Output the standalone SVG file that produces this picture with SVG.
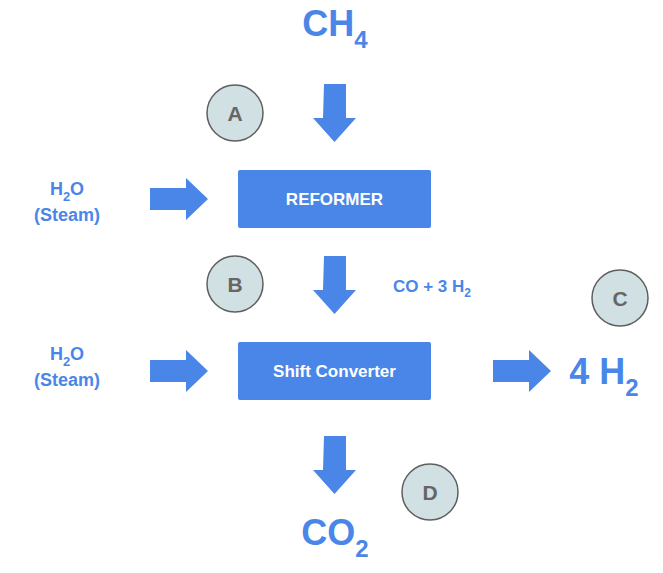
<svg xmlns="http://www.w3.org/2000/svg" width="663" height="573" viewBox="0 0 663 573">
<style>
.a{fill:#4a86e8}
.c{fill:#d0e0e3;stroke:#5f5f5f;stroke-width:1.5}
.cl{font-family:"Liberation Sans",Arial,sans-serif;font-weight:bold;font-size:21px;fill:#666;text-anchor:middle}
.t{font-family:"Liberation Sans",Arial,sans-serif;font-weight:bold;fill:#4a86e8;text-anchor:middle}
.w{font-family:"Liberation Sans",Arial,sans-serif;font-weight:bold;fill:#fff;text-anchor:middle;font-size:17px}
</style>
<rect width="663" height="573" fill="#fff"/>
<g id="connectors">
<path class="a" d="M324,84h22v34h10l-21.5,24l-21.5-24h10z"/>
<path class="a" d="M324,256h22v34h10l-21.5,24l-21.5-24h10z"/>
<path class="a" d="M324,436h22v34h10l-21.5,24l-21.5-24h10z"/>
<path class="a" d="M150,188h36v-10l22,21l-22,21v-10h-36z"/>
<path class="a" d="M150,360h36v-10l22,21l-22,21v-10h-36z"/>
<path class="a" d="M493,360h36v-10l22,21l-22,21v-10h-36z"/>
</g>
<g id="reformer"><rect x="238" y="170" width="193" height="58" rx="2" class="a"/><text class="w" x="334.5" y="205">REFORMER</text></g>
<g id="shift"><rect x="238" y="342" width="193" height="58" rx="2" class="a"/><text class="w" x="334.5" y="377">Shift Converter</text></g>
<g id="A"><circle class="c" cx="235" cy="113" r="28"/><text class="cl" x="235" y="121">A</text></g>
<g id="B"><circle class="c" cx="235" cy="284" r="28"/><text class="cl" x="235" y="292">B</text></g>
<g id="C"><circle class="c" cx="620" cy="298" r="28"/><text class="cl" x="620" y="306">C</text></g>
<g id="D"><circle class="c" cx="430" cy="492" r="28"/><text class="cl" x="430" y="500">D</text></g>
<g id="ch4"><text class="t" x="335" y="36" font-size="36">CH<tspan font-size="24" dy="12">4</tspan></text></g>
<g id="co2"><text class="t" x="335" y="545" font-size="36">CO<tspan font-size="24" dy="12">2</tspan></text></g>
<g id="h2out"><text class="t" x="604" y="384" font-size="36">4 H<tspan font-size="24" dy="12">2</tspan></text></g>
<g id="coh2"><text class="t" x="432" y="292" font-size="17">CO + 3 H<tspan font-size="12" dy="5">2</tspan></text></g>
<g id="steam1"><text class="t" font-size="18" x="67" y="195">H<tspan font-size="13" dy="6">2</tspan><tspan dy="-6">O</tspan></text><text class="t" font-size="18" x="67" y="221">(Steam)</text></g>
<g id="steam2"><text class="t" font-size="18" x="67" y="360">H<tspan font-size="13" dy="6">2</tspan><tspan dy="-6">O</tspan></text><text class="t" font-size="18" x="67" y="386">(Steam)</text></g>
</svg>
